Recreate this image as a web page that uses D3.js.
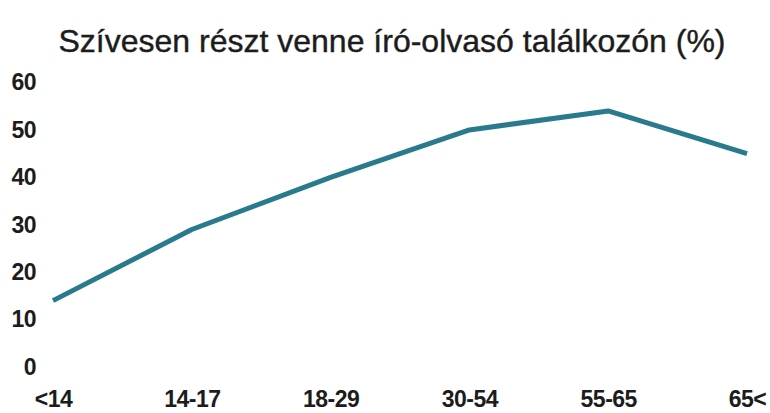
<!DOCTYPE html>
<html>
<head>
<meta charset="utf-8">
<script src="https://cdn.jsdelivr.net/npm/d3@7"></script>
<style>
  html, body { margin: 0; padding: 0; background: #fff; }
  svg { display: block; font-family: "Liberation Sans", Arial, sans-serif; }
</style>
</head>
<body>
<div id="chart"></div>
<script>
const WIDTH = 770;
const HEIGHT = 413;

const TITLE = 'Szívesen részt venne író-olvasó találkozón (%)';
const ageGroups = ['<14', '14-17', '18-29', '30-54', '55-65', '65<'];
const shareValues = [14, 29, 40, 50, 54, 45];
const yTicks = [0, 10, 20, 30, 40, 50, 60];

const LINE_COLOR = '#2a7a8e';
const TEXT_COLOR = '#1c1c1c';

const x = d3.scalePoint().domain(ageGroups).range([53, 747]);
const y = d3.scaleLinear().domain([0, 60]).range([367, 82.5]);

const svg = d3.select('#chart')
  .append('svg')
  .attr('width', WIDTH)
  .attr('height', HEIGHT);

svg.append('text')
  .attr('x', 392)
  .attr('y', 52)
  .attr('text-anchor', 'middle')
  .attr('font-size', 32)
  .attr('fill', TEXT_COLOR)
  .attr('stroke', TEXT_COLOR)
  .attr('stroke-width', 0.4)
  .text(TITLE);

// y axis: labels only, no line or ticks
const yAxis = d3.axisLeft(y).tickValues(yTicks).tickSize(0).tickPadding(0);
const yg = svg.append('g')
  .attr('transform', 'translate(36,0)')
  .call(yAxis);
yg.select('.domain').remove();
yg.selectAll('text')
  .attr('font-family', '"Liberation Sans", Arial, sans-serif')
  .attr('font-size', 23)
  .attr('font-weight', 'bold')
  .attr('letter-spacing', -0.5)
  .attr('fill', TEXT_COLOR);

const xAxis = d3.axisBottom(x).tickSize(0).tickPadding(0);
const xg = svg.append('g')
  .attr('transform', 'translate(0,391)')
  .call(xAxis);
xg.select('.domain').remove();
xg.selectAll('text')
  .attr('font-family', '"Liberation Sans", Arial, sans-serif')
  .attr('font-size', 23)
  .attr('font-weight', 'bold')
  .attr('letter-spacing', -0.5)
  .attr('fill', TEXT_COLOR);

const line = d3.line()
  .x((d, i) => x(ageGroups[i]))
  .y(d => y(d));

svg.append('path')
  .datum(shareValues)
  .attr('d', line)
  .attr('fill', 'none')
  .attr('stroke', LINE_COLOR)
  .attr('stroke-width', 5)
  .attr('stroke-linejoin', 'round');
</script>
</body>
</html>
